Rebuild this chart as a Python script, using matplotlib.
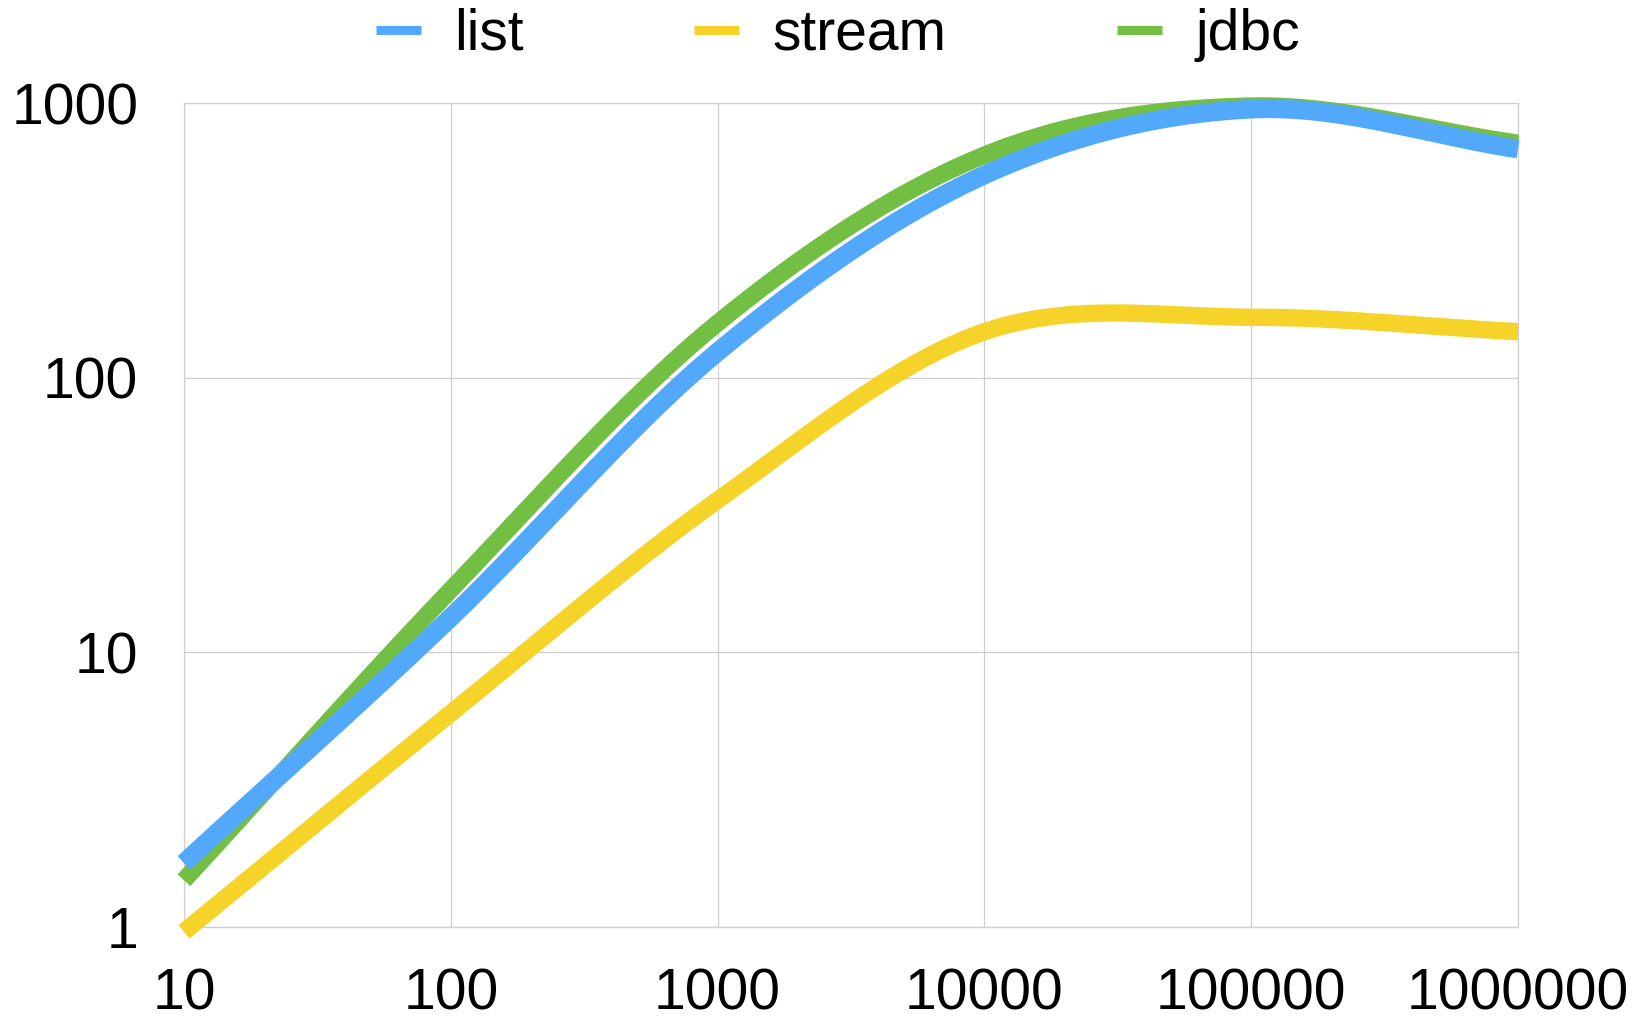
import numpy as np
import matplotlib
matplotlib.use("Agg")
import matplotlib.pyplot as plt
from matplotlib.lines import Line2D

plt.rcParams['font.family'] = ['Liberation Sans', 'DejaVu Sans']

# Result sizes (rows) and measured throughput per method
sizes = [10, 100, 1000, 10000, 100000, 1000000]
list_vals = [1.71, 13.4, 124, 547, 950, 680]
stream_vals = [0.96, 6.0, 35.8, 147, 166, 147]
jdbc_vals = [1.48, 16.9, 158, 646, 975, 714]

series_names = ["list", "stream", "jdbc"]
series_colors = ["#52A8FA", "#F5D329", "#72BF44"]

x_ticks = [10, 100, 1000, 10000, 100000, 1000000]
x_tick_labels = ["10", "100", "1000", "10000", "100000", "1000000"]
y_ticks = [1, 10, 100, 1000]
y_tick_labels = ["1", "10", "100", "1000"]


def smooth_loglog(xs, ys, n=80):
    """Cubic Hermite (Catmull-Rom style) curve through the points in log-log space."""
    lx = np.log10(np.asarray(xs, float))
    ly = np.log10(np.asarray(ys, float))
    m = np.gradient(ly, lx)
    out_x, out_y = [], []
    for i in range(len(lx) - 1):
        h = lx[i + 1] - lx[i]
        t = np.linspace(0, 1, n, endpoint=(i == len(lx) - 2))
        h00 = 2 * t**3 - 3 * t**2 + 1
        h10 = t**3 - 2 * t**2 + t
        h01 = -2 * t**3 + 3 * t**2
        h11 = t**3 - t**2
        yy = h00 * ly[i] + h10 * h * m[i] + h01 * ly[i + 1] + h11 * h * m[i + 1]
        out_x.append(lx[i] + t * h)
        out_y.append(yy)
    return 10 ** np.concatenate(out_x), 10 ** np.concatenate(out_y)


W, H = 1646, 1019
fig = plt.figure(figsize=(W / 100, H / 100), dpi=100)
ax = fig.add_axes([184 / W, 1 - 927 / H, (1518 - 184) / W, (927 - 103) / H])

ax.set_xscale("log")
ax.set_yscale("log")
ax.set_xlim(10, 1000000)
ax.set_ylim(1, 1000)

grid_color = "#CFCFCF"
ax.grid(True, which="major", color=grid_color, linewidth=0.9)
ax.set_axisbelow(True)
for sp in ax.spines.values():
    sp.set_color(grid_color)
    sp.set_linewidth(0.9)

ax.set_xticks(x_ticks)
ax.set_xticklabels(x_tick_labels)
ax.set_yticks(y_ticks)
ax.set_yticklabels(y_tick_labels)
ax.minorticks_off()
ax.tick_params(axis="both", length=0, labelsize=41, colors="black")
ax.tick_params(axis="x", pad=29)
ax.tick_params(axis="y", pad=33)

all_vals = [list_vals, stream_vals, jdbc_vals]
widths = [13.5, 12.5, 12.5]
zorders = [5, 4, 3]
for vals, color, lw, z in zip(all_vals, series_colors, widths, zorders):
    sx, sy = smooth_loglog(sizes, vals)
    ax.plot(sx, sy, color=color, linewidth=lw, solid_capstyle="butt",
            solid_joinstyle="round", clip_on=False, zorder=z)

handles = [Line2D([0], [0], color=c, linewidth=6.5, solid_capstyle="butt")
           for c in series_colors]
fig.legend(handles, series_names, loc="center", bbox_to_anchor=(0.509, 0.966),
           ncol=3, frameon=False, fontsize=41, handlelength=0.79,
           handletextpad=0.58, columnspacing=3.0, borderpad=0, borderaxespad=0)

fig.savefig("out.png", dpi=100)
